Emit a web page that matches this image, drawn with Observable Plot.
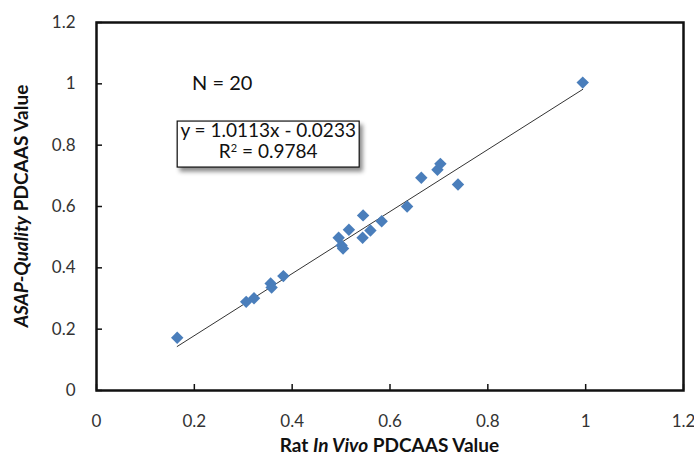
<!DOCTYPE html>
<html><head><meta charset="utf-8">
<script src="https://cdn.jsdelivr.net/npm/d3@7"></script>
<script src="https://cdn.jsdelivr.net/npm/@observablehq/plot@0.6"></script>
<style>
body{margin:0;background:#fff;}
#chart svg{font-family:Lato, "Open Sans", sans-serif;}
</style>
</head><body><div id="chart"></div>
<script>
// Data
const ratInVivo   = [0.165, 0.306, 0.322, 0.356, 0.358, 0.382, 0.495, 0.501, 0.504, 0.516,
                     0.545, 0.544, 0.560, 0.583, 0.635, 0.664, 0.697, 0.703, 0.739, 0.994];
const asapQuality = [0.172, 0.289, 0.301, 0.349, 0.336, 0.373, 0.498, 0.473, 0.463, 0.524,
                     0.571, 0.498, 0.522, 0.552, 0.600, 0.694, 0.720, 0.739, 0.672, 1.004];
const xTicks = [0, 0.2, 0.4, 0.6, 0.8, 1, 1.2];
const yTicks = [0, 0.2, 0.4, 0.6, 0.8, 1, 1.2];
const slope = 1.0113, intercept = -0.0233, rSquared = 0.9784;
const nCount = 20;

const points = ratInVivo.map((x, i) => ({x, y: asapQuality[i]}));
const xMin = d3.min(ratInVivo), xMax = d3.max(ratInVivo);
const trend = [xMin, xMax].map(x => ({x, y: slope * x + intercept}));

const fmt = d => String(+d.toFixed(1));

const plot = Plot.plot({
  width: 694,
  height: 456,
  marginLeft: 96,
  marginRight: 11,
  marginTop: 22,
  marginBottom: 66,
  style: {fontFamily: "Lato, sans-serif", fontSize: "17px", color: "#222", background: "#fff"},
  x: {domain: [0, 1.2]},
  y: {domain: [0, 1.2]},
  marks: [
    Plot.axisX(xTicks, {tickSize: -6, tickPadding: 30, tickFormat: fmt, label: null, stroke: "#111", strokeWidth: 1.5, fill: "#333", fontSize: 17}),
    Plot.axisY(yTicks, {tickSize: -6, tickPadding: 27, tickFormat: fmt, label: null, stroke: "#111", strokeWidth: 1.5, fill: "#333", fontSize: 17}),
    Plot.frame({stroke: "#111", strokeWidth: 2.5}),
    Plot.line(trend, {x: "x", y: "y", stroke: "#333", strokeWidth: 1}),
    Plot.dot(points, {x: "x", y: "y", symbol: "diamond2", r: 5.6, fill: "#4a7ebb", stroke: "none"})
  ]
});

document.getElementById("chart").appendChild(plot);

const sx = plot.scale("x"), sy = plot.scale("y");
const svg = d3.select(plot);

// drop shadow filter
const defs = svg.append("defs");
const f = defs.append("filter").attr("id", "shadow").attr("x", "-10%").attr("y", "-10%").attr("width", "130%").attr("height", "160%");
f.append("feDropShadow").attr("dx", 3).attr("dy", 4).attr("stdDeviation", 2.2).attr("flood-color", "#000").attr("flood-opacity", 0.45);

// N label
svg.append("text")
  .attr("x", sx.apply(0.258)).attr("y", sy.apply(0.994))
  .attr("text-anchor", "middle").attr("dominant-baseline", "middle")
  .attr("font-size", 20).attr("fill", "#111")
  .text(`N = ${nCount}`);

// equation box
const bx0 = sx.apply(0.166), bx1 = sx.apply(0.538);
const by0 = sy.apply(0.877), by1 = sy.apply(0.727);
svg.append("rect")
  .attr("x", bx0).attr("y", by0).attr("width", bx1 - bx0).attr("height", by1 - by0)
  .attr("fill", "#fff").attr("stroke", "#111").attr("stroke-width", 1.2)
  .attr("filter", "url(#shadow)");
const cx = (bx0 + bx1) / 2;
const eq = svg.append("text")
  .attr("x", cx).attr("y", sy.apply(0.845) + 6)
  .attr("text-anchor", "middle")
  .attr("font-size", 19).attr("fill", "#111");
eq.append("tspan").attr("x", cx).text(`y = ${slope}x - ${Math.abs(intercept)}`);
eq.append("tspan").attr("x", cx).attr("dy", 21).text("R");
eq.append("tspan").attr("dy", -6).attr("font-size", 11).text("2");
eq.append("tspan").attr("dy", 6).text(` = ${rSquared}`);

// x-axis title
const xt = svg.append("text")
  .attr("x", sx.apply(0.6)).attr("y", 447)
  .attr("text-anchor", "middle").attr("dominant-baseline", "middle")
  .attr("font-size", 19).attr("font-weight", "bold").attr("fill", "#111");
xt.append("tspan").text("Rat ");
xt.append("tspan").attr("font-style", "italic").text("In Vivo");
xt.append("tspan").text(" PDCAAS Value");

// y-axis title
const yt = svg.append("text")
  .attr("transform", `translate(23,${sy.apply(0.6)}) rotate(-90)`)
  .attr("text-anchor", "middle").attr("dominant-baseline", "middle")
  .attr("font-size", 19).attr("font-weight", "bold").attr("fill", "#111");
yt.append("tspan").attr("font-style", "italic").text("ASAP-Quality");
yt.append("tspan").text(" PDCAAS Value");
</script>
</body></html>
